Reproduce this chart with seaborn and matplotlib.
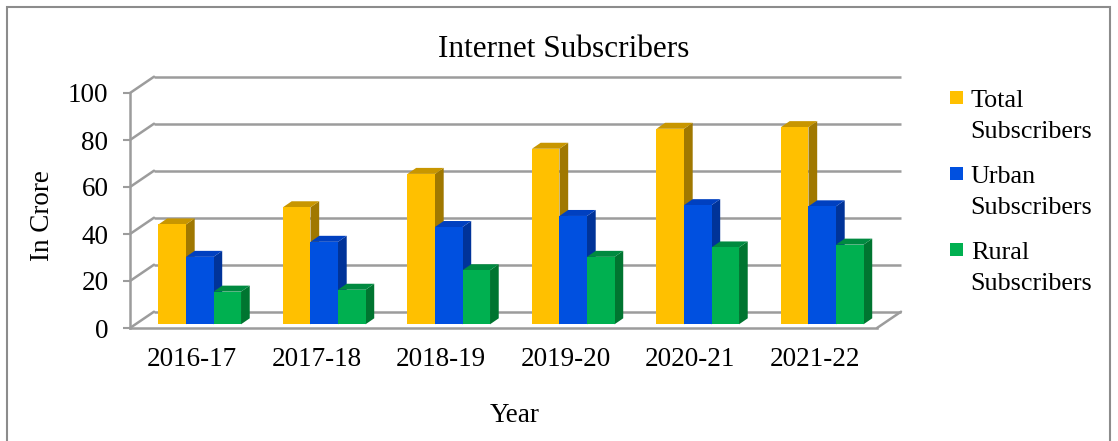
import numpy as np
import pandas as pd
import seaborn as sns
import matplotlib
matplotlib.use("Agg")
import matplotlib.pyplot as plt
from matplotlib.patches import Polygon, Rectangle

# ---- data (in crore) ----
years = ["2016-17", "2017-18", "2018-19", "2019-20", "2020-21", "2021-22"]
series_names = ["Total Subscribers", "Urban Subscribers", "Rural Subscribers"]
total = [42.5, 49.8, 64.0, 74.7, 83.2, 83.9]
urban = [28.7, 35.1, 41.4, 46.1, 50.7, 50.2]
rural = [13.9, 14.7, 23.0, 28.7, 32.7, 33.9]

front_colors = ["#FFC000", "#0050E0", "#00B050"]
top_colors = ["#C89600", "#0040C0", "#008A40"]
side_colors = ["#A07800", "#003399", "#007530"]

df = pd.DataFrame({
    "Year": years * 3,
    "Value": total + urban + rural,
    "Series": [s for s in series_names for _ in years],
})

sns.set_theme(style="white")
plt.rcParams["font.family"] = ["Liberation Serif", "DejaVu Serif"]

W, H, DPI = 1118, 441, 100
fig = plt.figure(figsize=(W / DPI, H / DPI), dpi=DPI)

# front plane of the 3-D box, in pixels
x_left, x_right, y_bottom, y_top = 130, 877, 328, 93
ax = fig.add_axes([x_left / W, (H - y_bottom) / H,
                   (x_right - x_left) / W, (y_bottom - y_top) / H])

sns.barplot(data=df, x="Year", y="Value", hue="Series", palette=front_colors,
            width=0.663, gap=0, saturation=1, legend=False, ax=ax,
            linewidth=0, errorbar=None)

ax.set_xlim(-0.5, len(years) - 0.5)
ax.set_ylim(0, 100)

# pixel -> data conversion factors
sx = (len(years)) / (x_right - x_left)
sy = 100 / (y_bottom - y_top)

grid_col = "#9c9c9c"
grid_lw = 1.8
depth_x, depth_y = 24 * sx, 16.3 * sy   # depth of the floor / side wall

yticks = np.arange(0, 101, 20)
for v in yticks:
    # back wall gridline
    ax.plot([-0.5 + depth_x, len(years) - 0.5 + depth_x], [v + depth_y, v + depth_y],
            color=grid_col, lw=grid_lw, zorder=0.5, clip_on=False,
            solid_capstyle="butt")
    # side wall diagonal
    ax.plot([-0.5, -0.5 + depth_x], [v, v + depth_y], color=grid_col,
            lw=grid_lw, zorder=0.5, clip_on=False)
# floor, right edge
ax.plot([len(years) - 0.5, len(years) - 0.5 + depth_x], [0, depth_y],
        color=grid_col, lw=grid_lw, zorder=0.5, clip_on=False)

# give the bars depth: shift into the box and add top / side faces
bar_dx, bar_dy = 7.5 * sx, 3.7 * sy
face_dx, face_dy = 8.7 * sx, 6.0 * sy
for si, cont in enumerate(ax.containers):
    for bar in cont:
        x0 = bar.get_x() + bar_dx
        w = bar.get_width()
        h = bar.get_height()
        y0 = bar_dy
        bar.set_x(x0)
        bar.set_y(y0)
        bar.set_clip_on(False)
        z = 2 + x0
        bar.set_zorder(z + 0.02)
        side = Polygon([(x0 + w, y0), (x0 + w + face_dx, y0 + face_dy),
                        (x0 + w + face_dx, y0 + h + face_dy), (x0 + w, y0 + h)],
                       closed=True, facecolor=side_colors[si], edgecolor="none",
                       zorder=z, clip_on=False)
        top = Polygon([(x0, y0 + h), (x0 + w, y0 + h),
                       (x0 + w + face_dx, y0 + h + face_dy), (x0 + face_dx, y0 + h + face_dy)],
                      closed=True, facecolor=top_colors[si], edgecolor="none",
                      zorder=z + 0.01, clip_on=False)
        ax.add_patch(side)
        ax.add_patch(top)

# axes styling
for s in ["top", "right"]:
    ax.spines[s].set_visible(False)
for s in ["left", "bottom"]:
    ax.spines[s].set_color(grid_col)
    ax.spines[s].set_linewidth(grid_lw)
    ax.spines[s].set_zorder(0.6)
ax.set_yticks(yticks)
ax.set_yticklabels([str(v) for v in yticks])
ax.tick_params(axis="y", length=5, width=1.5, color=grid_col, pad=10.5,
               labelsize=19.5, labelcolor="black", left=True)
ax.tick_params(axis="x", length=0, pad=14, labelsize=19.5, labelcolor="black")
ax.set_xlabel("")
ax.set_ylabel("")
ax.grid(False)
ax.patch.set_alpha(0)

# titles and axis labels
fig.text(563.5 / W, (H - 57) / H, "Internet Subscribers", ha="center",
         va="baseline", fontsize=22.5, color="black")
fig.text(42.7 / W, (H - 216) / H, "In Crore", ha="center", va="center",
         rotation=90, fontsize=19.5, color="black")
fig.text(515 / W, (H - 421.7) / H, "Year", ha="center", va="baseline",
         fontsize=19.5, color="black")

# legend
legend_first = ["Total", "Urban", "Rural"]
base_lines = [106.7, 183.3, 259.3]
for i, (word, b) in enumerate(zip(legend_first, base_lines)):
    sq_top = b - 16
    fig.add_artist(Rectangle((950 / W, (H - sq_top - 13) / H), 13 / W, 13 / H,
                             transform=fig.transFigure, facecolor=front_colors[i],
                             edgecolor="none"))
    fig.text(970.7 / W, (H - b) / H, word, ha="left", va="baseline",
             fontsize=18.8, color="black")
    fig.text(970.7 / W, (H - b - 31) / H, "Subscribers", ha="left",
             va="baseline", fontsize=18.8, color="black")

# outer frame
fig.add_artist(Rectangle((7 / W, -0.02), (1110 - 7) / W, (H - 7) / H + 0.02,
                         transform=fig.transFigure, fill=False,
                         edgecolor="#8c8c8c", lw=1.5))

fig.savefig("out.png", dpi=DPI)
